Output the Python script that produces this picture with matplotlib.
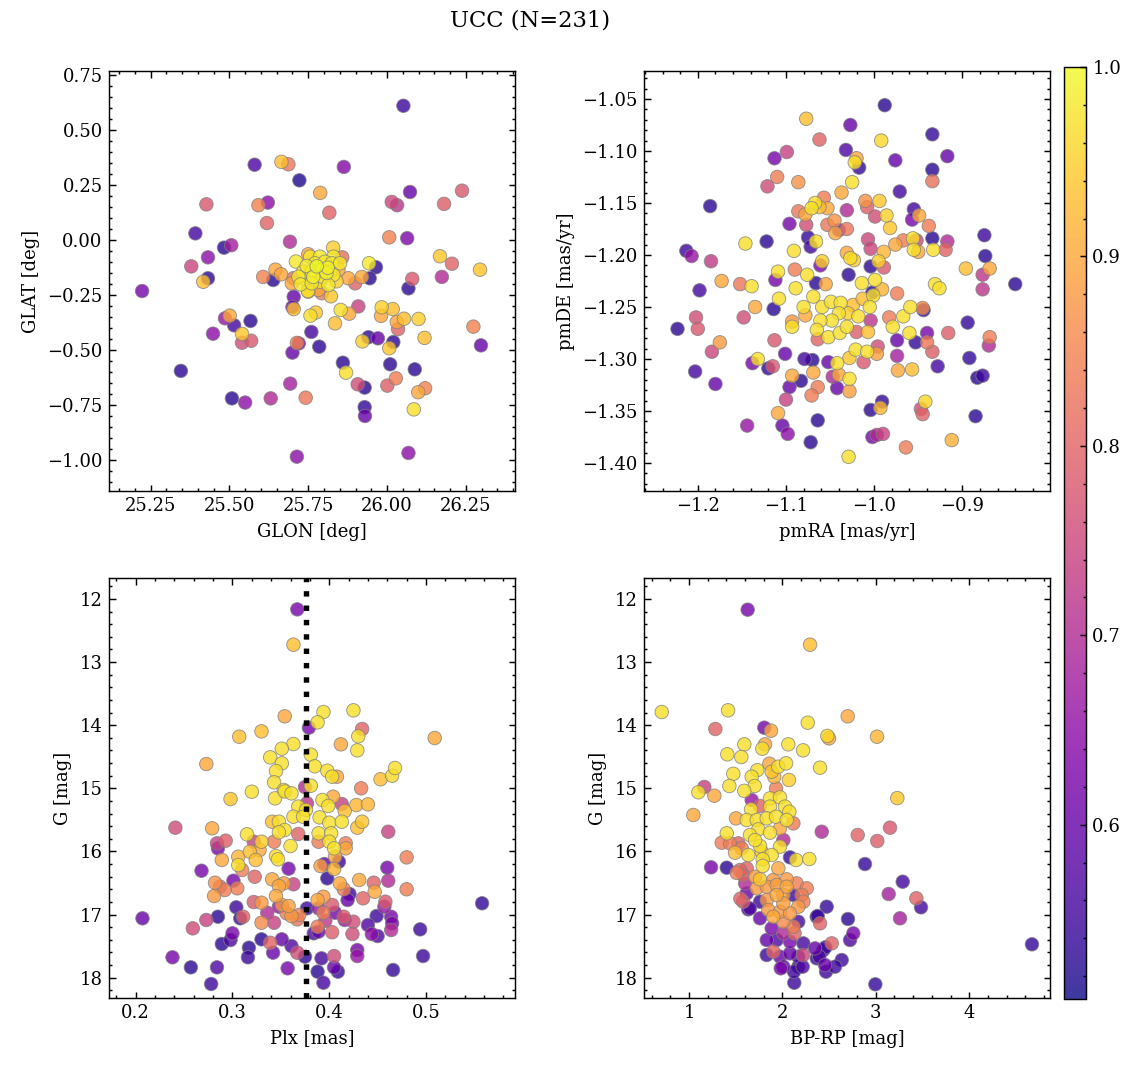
import numpy as np
import matplotlib
matplotlib.use('Agg')
from matplotlib import pyplot as plt
from matplotlib.ticker import MultipleLocator, AutoMinorLocator

plt.rcParams['font.family'] = 'serif'
plt.rcParams['font.serif'] = ['DejaVu Serif']
plt.rcParams['font.size'] = 10
plt.rcParams['axes.linewidth'] = 0.8

title = 'UCC (N=231)'
plx_line = 0.376

# --- panel 1: sky positions ---
glon = [26.052, 25.580, 25.665, 25.687, 25.722, 25.863, 25.788, 26.073, 26.238, 25.427,
        25.592, 25.622, 25.817, 26.015, 26.032, 26.181, 25.619, 25.392, 25.692, 26.007,
        26.064, 25.483, 25.506, 25.432, 25.379, 26.168, 26.206, 26.295, 25.432, 25.417,
        26.080, 26.174, 25.646, 25.664, 25.607, 25.639, 25.829, 25.943, 25.965, 25.920,
        25.945, 25.877, 25.711, 25.858, 25.223, 26.068, 25.704, 25.700, 25.704, 25.749,
        25.822, 25.757, 25.774, 25.853, 25.880, 25.909, 25.835, 25.983, 25.981, 26.018,
        26.031, 26.054, 26.035, 26.100, 26.119, 26.274, 26.298, 25.486, 25.501, 25.515,
        25.567, 25.448, 25.540, 25.540, 25.569, 25.760, 25.720, 25.714, 25.700, 25.785,
        25.860, 25.870, 25.922, 25.941, 25.971, 26.020, 26.007, 26.010, 26.088, 25.907,
        25.929, 26.001, 26.028, 26.099, 26.121, 26.085, 25.929, 25.930, 25.346, 25.508,
        25.550, 25.631, 25.693, 25.742, 25.714, 26.068,
        25.750, 25.756, 25.787, 25.830, 25.772, 25.803, 25.825, 25.851, 25.734, 25.761,
        25.793, 25.819, 25.846, 25.719, 25.796, 25.830, 25.726, 25.761, 25.814, 25.703,
        25.698, 25.750, 25.782, 25.793, 25.899,
        25.777, 25.808, 25.745, 25.840, 25.787, 25.766, 25.812, 25.740]
glat = [0.610, 0.342, 0.355, 0.344, 0.271, 0.332, 0.214, 0.218, 0.224, 0.162,
        0.158, 0.170, 0.124, 0.173, 0.158, 0.164, 0.077, 0.030, -0.008, 0.012,
        0.008, -0.035, -0.024, -0.079, -0.120, -0.074, -0.108, -0.135, -0.174, -0.190,
        -0.177, -0.168, -0.135, -0.156, -0.168, -0.182, -0.035, -0.106, -0.124, -0.168,
        -0.174, -0.174, -0.098, -0.079, -0.232, -0.220, -0.258, -0.305, -0.314, -0.232,
        -0.256, -0.344, -0.330, -0.318, -0.335, -0.302, -0.379, -0.306, -0.345, -0.314,
        -0.373, -0.358, -0.405, -0.359, -0.445, -0.394, -0.479, -0.356, -0.344, -0.388,
        -0.368, -0.426, -0.427, -0.467, -0.458, -0.418, -0.470, -0.468, -0.512, -0.485,
        -0.558, -0.603, -0.461, -0.442, -0.447, -0.464, -0.492, -0.565, -0.588, -0.656,
        -0.671, -0.662, -0.629, -0.692, -0.674, -0.770, -0.760, -0.800, -0.595, -0.720,
        -0.739, -0.720, -0.653, -0.717, -0.985, -0.968,
        -0.065, -0.076, -0.076, -0.076, -0.106, -0.099, -0.106, -0.106, -0.144, -0.141,
        -0.136, -0.144, -0.136, -0.167, -0.167, -0.159, -0.202, -0.197, -0.205, -0.174,
        -0.197, -0.235, -0.227, -0.242, -0.197,
        -0.120, -0.150, -0.118, -0.188, -0.190, -0.168, -0.126, -0.178]
p_sky = [0.55, 0.57, 0.93, 0.83, 0.52, 0.64, 0.90, 0.60, 0.78, 0.78,
         0.85, 0.65, 0.80, 0.75, 0.72, 0.79, 0.80, 0.56, 0.70, 0.85,
         0.63, 0.53, 0.68, 0.65, 0.75, 0.94, 0.80, 0.94, 0.53, 0.93,
         0.78, 0.70, 0.90, 0.90, 0.85, 0.53, 0.95, 0.98, 0.53, 0.90,
         0.53, 0.90, 0.98, 0.82, 0.62, 0.53, 0.60, 0.62, 0.93, 0.97,
         0.94, 0.97, 0.94, 0.97, 0.90, 0.74, 0.93, 0.95, 0.90, 0.93,
         0.90, 0.93, 0.80, 0.95, 0.93, 0.85, 0.60, 0.66, 0.90, 0.56,
         0.53, 0.65, 0.94, 0.76, 0.78, 0.56, 0.62, 0.85, 0.60, 0.53,
         0.53, 0.97, 0.95, 0.54, 0.60, 0.53, 0.94, 0.53, 0.53, 0.76,
         0.53, 0.79, 0.84, 0.90, 0.85, 0.97, 0.54, 0.60, 0.53, 0.53,
         0.65, 0.70, 0.68, 0.83, 0.65, 0.65,
         0.90, 0.98, 0.98, 0.98, 0.98, 0.98, 0.98, 0.98, 0.98, 0.98,
         0.98, 0.98, 0.90, 0.98, 0.98, 0.98, 0.98, 0.98, 0.98, 0.82,
         0.90, 0.94, 0.90, 0.84, 0.80,
         1.00, 0.99, 0.98, 0.95, 0.97, 0.99, 0.99, 0.96]

# --- panel 2: proper motions ---
pmra = [-0.988, -1.077, -1.027, -0.934, -1.062, -0.992, -1.032, -1.113, -1.099, -0.917,
        -1.020, -1.022, -1.017, -0.976, -0.934, -0.934, -1.110, -1.121, -1.086, -1.025,
        -0.971, -1.037, -1.186, -1.057, -1.067, -1.071, -1.062, -1.053, -1.086, -1.078,
        -1.010, -1.008, -0.994, -1.031, -0.999, -0.986, -0.982, -0.955, -0.957, -0.949,
        -0.938, -1.096, -1.077, -1.053, -1.045, -1.040, -1.044, -1.031, -1.075, -1.072,
        -1.066, -1.122, -1.146, -1.091, -1.213, -1.207, -1.185, -1.007, -1.004, -1.031,
        -1.027, -1.023, -0.989, -0.976, -0.967, -0.956, -0.955, -0.950, -0.952, -0.934,
        -0.933, -0.917, -0.919, -0.875, -0.874, -0.896, -0.869, -0.877, -0.840, -1.004,
        -0.995, -0.989, -1.029, -1.061, -1.059, -1.090, -1.076, -1.109, -1.112, -1.173,
        -1.152, -1.139,
        -1.198, -1.089, -1.066, -1.055, -1.014, -0.999, -0.991, -0.931, -0.926, -0.877,
        -1.108, -1.135, -1.114, -1.148, -1.202, -1.200, -1.223, -1.175, -1.184, -1.203,
        -1.180, -1.080, -1.078, -1.069, -1.059, -1.049, -1.038, -1.024, -1.013, -1.001,
        -1.002, -1.005, -1.018, -1.030, -1.040, -1.048, -1.061, -1.065, -1.052, -1.064,
        -1.039, -1.031, -1.020, -1.007, -1.004, -1.093, -1.093, -0.983, -0.979, -0.974,
        -0.967, -0.959, -0.945, -0.944, -0.960, -0.974, -0.953, -0.940, -0.940, -0.934,
        -0.916, -0.894, -0.869, -0.870, -0.892, -0.928, -0.974, -0.973, -0.957, -0.883,
        -0.877, -1.021, -1.008, -0.997, -0.996, -1.012, -1.028, -1.042, -1.052, -1.040,
        -1.028, -1.047, -1.042, -1.028, -1.069, -1.083, -1.093, -1.096, -1.064, -1.071,
        -1.100, -1.079, -1.070, -1.101, -1.132, -1.138, -1.120, -1.115, -1.113, -1.109,
        -1.104, -1.098, -1.144, -1.064, -1.072, -1.004, -0.993, -0.991, -1.002, -0.990,
        -0.997, -0.964, -1.029, -0.947, -0.945, -0.942, -0.885, -0.912]
pmde = [-1.056, -1.069, -1.075, -1.084, -1.089, -1.090, -1.099, -1.107, -1.101, -1.105,
        -1.107, -1.111, -1.116, -1.109, -1.118, -1.129, -1.125, -1.134, -1.130, -1.130,
        -1.139, -1.140, -1.153, -1.145, -1.150, -1.155, -1.154, -1.155, -1.158, -1.161,
        -1.148, -1.154, -1.148, -1.157, -1.163, -1.162, -1.174, -1.156, -1.166, -1.162,
        -1.172, -1.170, -1.171, -1.171, -1.167, -1.176, -1.179, -1.175, -1.183, -1.192,
        -1.187, -1.187, -1.189, -1.196, -1.196, -1.201, -1.206, -1.185, -1.194, -1.198,
        -1.203, -1.205, -1.197, -1.190, -1.186, -1.184, -1.195, -1.197, -1.186, -1.184,
        -1.195, -1.187, -1.195, -1.181, -1.201, -1.213, -1.213, -1.219, -1.228, -1.211,
        -1.206, -1.212, -1.219, -1.210, -1.206, -1.214, -1.219, -1.216, -1.224, -1.225,
        -1.228, -1.230,
        -1.234, -1.232, -1.227, -1.228, -1.227, -1.224, -1.233, -1.228, -1.232, -1.233,
        -1.242, -1.250, -1.252, -1.260, -1.260, -1.271, -1.271, -1.284, -1.293, -1.312,
        -1.324, -1.250, -1.258, -1.240, -1.250, -1.245, -1.246, -1.248, -1.242, -1.239,
        -1.236, -1.250, -1.259, -1.256, -1.256, -1.263, -1.263, -1.272, -1.279, -1.281,
        -1.275, -1.269, -1.274, -1.274, -1.263, -1.264, -1.269, -1.260, -1.269, -1.237,
        -1.259, -1.250, -1.251, -1.253, -1.275, -1.282, -1.284, -1.275, -1.284, -1.293,
        -1.275, -1.265, -1.279, -1.287, -1.299, -1.307, -1.297, -1.311, -1.310, -1.318,
        -1.316, -1.291, -1.293, -1.295, -1.288, -1.303, -1.299, -1.304, -1.303, -1.315,
        -1.319, -1.317, -1.328, -1.331, -1.313, -1.321, -1.316, -1.327, -1.327, -1.335,
        -1.339, -1.300, -1.301, -1.295, -1.300, -1.304, -1.309, -1.307, -1.282, -1.352,
        -1.364, -1.372, -1.364, -1.359, -1.380, -1.349, -1.347, -1.341, -1.375, -1.372,
        -1.373, -1.385, -1.394, -1.348, -1.353, -1.341, -1.355, -1.378]
p_pm = [0.53, 0.93, 0.60, 0.54, 0.80, 0.96, 0.57, 0.62, 0.74, 0.60,
        0.90, 0.97, 0.54, 0.60, 0.53, 0.82, 0.84, 0.76, 0.87, 0.97,
        0.56, 0.90, 0.53, 0.84, 0.97, 0.97, 0.93, 0.90, 0.83, 0.90,
        0.87, 0.79, 0.94, 0.70, 0.76, 0.95, 0.94, 0.56, 0.62, 0.90,
        0.84, 0.62, 0.76, 0.83, 0.87, 0.62, 0.90, 0.83, 0.54, 0.56,
        0.97, 0.53, 0.97, 0.97, 0.55, 0.66, 0.73, 0.75, 0.75, 0.90,
        0.97, 0.95, 0.92, 0.90, 0.84, 0.97, 0.97, 0.90, 0.75, 0.53,
        0.97, 0.70, 0.80, 0.55, 0.53, 0.93, 0.90, 0.72, 0.53, 0.53,
        0.95, 0.78, 0.53, 0.62, 0.95, 0.84, 0.97, 0.97, 0.62, 0.90,
        0.83, 0.97,
        0.56, 0.97, 0.53, 0.90, 0.97, 0.97, 0.92, 0.97, 0.97, 0.72,
        0.97, 0.90, 0.53, 0.76, 0.76, 0.78, 0.53, 0.88, 0.75, 0.56,
        0.60, 0.97, 0.90, 0.97, 0.97, 0.97, 0.97, 0.93, 0.93, 0.97,
        0.53, 0.97, 0.97, 0.95, 0.97, 0.97, 0.97, 0.97, 0.97, 0.80,
        0.97, 0.97, 0.79, 0.93, 0.72, 0.88, 0.97, 0.84, 0.97, 0.84,
        0.97, 0.97, 0.86, 0.54, 0.97, 0.60, 0.54, 0.62, 0.83, 0.79,
        0.79, 0.54, 0.84, 0.70, 0.54, 0.56, 0.68, 0.90, 0.93, 0.53,
        0.55, 0.97, 0.97, 0.89, 0.76, 0.78, 0.94, 0.97, 0.60, 0.90,
        0.97, 0.70, 0.60, 0.89, 0.90, 0.53, 0.90, 0.60, 0.84, 0.84,
        0.74, 0.56, 0.53, 0.60, 0.97, 0.62, 0.54, 0.78, 0.78, 0.90,
        0.60, 0.65, 0.66, 0.53, 0.53, 0.53, 0.92, 0.54, 0.62, 0.74,
        0.70, 0.84, 0.97, 0.76, 0.80, 0.96, 0.53, 0.91]

# --- panel 3: parallax vs G ---
plx = [0.367, 0.363, 0.354, 0.394, 0.425, 0.388, 0.379, 0.434, 0.330, 0.307,
       0.430, 0.509, 0.412, 0.363, 0.351, 0.429, 0.339, 0.381, 0.351, 0.273,
       0.385, 0.345, 0.398, 0.468, 0.465, 0.453, 0.403, 0.408, 0.343, 0.381,
       0.375, 0.433, 0.353,
       0.298, 0.320, 0.344, 0.354, 0.361, 0.368, 0.377, 0.376, 0.393, 0.404,
       0.399, 0.413, 0.416, 0.428, 0.440, 0.363, 0.373, 0.341, 0.348, 0.354,
       0.348, 0.368, 0.360, 0.390, 0.400, 0.413, 0.429, 0.434, 0.389, 0.402,
       0.389, 0.400, 0.405, 0.417, 0.417, 0.406, 0.461, 0.480, 0.315, 0.322,
       0.330, 0.343, 0.318, 0.328, 0.306, 0.306, 0.324, 0.345, 0.347, 0.310,
       0.289, 0.284, 0.285, 0.293, 0.279, 0.241, 0.268, 0.358, 0.391, 0.395,
       0.405, 0.410, 0.398, 0.341, 0.348, 0.353, 0.363, 0.323, 0.301, 0.305,
       0.282, 0.287, 0.292, 0.281, 0.345, 0.411, 0.415, 0.419, 0.421, 0.431,
       0.446, 0.447, 0.435, 0.461, 0.460, 0.480, 0.388, 0.394, 0.389, 0.377,
       0.403, 0.322, 0.330, 0.351, 0.358, 0.348, 0.304, 0.336, 0.356, 0.361,
       0.369, 0.367, 0.394, 0.396, 0.406, 0.415, 0.416, 0.425, 0.449, 0.457,
       0.458, 0.464, 0.465, 0.464, 0.494, 0.558, 0.207, 0.259, 0.273, 0.285,
       0.308, 0.311, 0.330, 0.343, 0.300, 0.298, 0.289, 0.317, 0.316, 0.330,
       0.339, 0.342, 0.351, 0.361, 0.367, 0.375, 0.384, 0.389, 0.388, 0.403,
       0.392, 0.405, 0.405, 0.409, 0.388, 0.394, 0.357, 0.284, 0.257, 0.278,
       0.238, 0.429, 0.429, 0.424, 0.440, 0.444, 0.450, 0.466, 0.497]
g_plx = [12.164, 12.724, 13.859, 13.791, 13.764, 13.954, 14.039, 14.060, 14.097, 14.182,
         14.176, 14.203, 14.303, 14.298, 14.372, 14.398, 14.509, 14.467, 14.604, 14.615,
         14.651, 14.726, 14.721, 14.678, 14.800, 14.857, 14.816, 14.816, 14.905, 14.959,
         14.980, 15.000, 15.027,
         15.170, 15.054, 15.159, 15.050, 15.080, 15.290, 15.238, 15.344, 15.185, 15.133,
         15.280, 15.249, 15.360, 15.265, 15.254, 15.450, 15.450, 15.529, 15.529, 15.661,
         15.697, 15.724, 15.914, 15.460, 15.545, 15.529, 15.624, 15.529, 15.713, 15.713,
         15.846, 15.846, 15.951, 15.872, 15.951, 16.084, 15.688, 16.094, 15.729, 15.846,
         15.846, 15.846, 16.005, 15.978, 16.084, 16.216, 16.136, 16.073, 16.125, 16.295,
         16.136, 15.872, 15.951, 15.830, 15.634, 15.624, 16.306, 16.274, 16.231, 16.200,
         16.279, 16.163, 16.427, 16.442, 16.548, 16.506, 16.521, 16.401, 16.464, 16.585,
         16.496, 16.559, 16.612, 16.707, 16.707, 16.506, 16.600, 16.770, 16.675, 16.453,
         16.496, 16.639, 16.743, 16.464, 16.258, 16.600, 16.770, 16.718, 16.902, 16.902,
         16.849, 16.802, 16.813, 16.849, 16.865, 16.876, 16.886, 16.971, 16.981, 17.024,
         17.008, 17.076, 16.971, 17.098, 16.971, 17.035, 17.087, 17.114, 17.024, 16.876,
         16.797, 17.035, 17.140, 17.246, 17.235, 16.822, 17.060, 17.219, 17.087, 17.035,
         17.060, 17.035, 17.130, 17.130, 17.298, 17.404, 17.467, 17.526, 17.678, 17.393,
         17.447, 17.605, 17.393, 17.500, 17.605, 17.668, 17.298, 17.272, 17.193, 17.281,
         17.694, 17.658, 17.837, 17.906, 17.906, 18.081, 17.853, 17.837, 17.837, 18.101,
         17.678, 17.563, 17.658, 17.309, 17.167, 17.309, 17.341, 17.879, 17.658]
p_plx = [0.62, 0.93, 0.90, 0.97, 0.97, 0.97, 0.62, 0.80, 0.93, 0.93,
         0.97, 0.90, 0.90, 0.97, 0.97, 0.97, 0.97, 0.97, 0.97, 0.90,
         0.97, 0.97, 0.97, 0.97, 0.96, 0.93, 0.97, 0.90, 0.97, 0.97,
         0.70, 0.84, 0.97,
         0.94, 0.97, 0.97, 0.97, 0.97, 0.97, 0.72, 0.97, 0.97, 0.90,
         0.97, 0.74, 0.93, 0.92, 0.92, 0.97, 0.97, 0.93, 0.97, 0.97,
         0.97, 0.80, 0.97, 0.97, 0.97, 0.97, 0.93, 0.94, 0.97, 0.97,
         0.84, 0.97, 0.97, 0.84, 0.90, 0.90, 0.74, 0.84, 0.97, 0.74,
         0.95, 0.84, 0.93, 0.90, 0.92, 0.97, 0.93, 0.97, 0.97, 0.84,
         0.90, 0.74, 0.62, 0.79, 0.90, 0.76, 0.62, 0.62, 0.89, 0.60,
         0.92, 0.55, 0.53, 0.90, 0.90, 0.89, 0.74, 0.80, 0.62, 0.84,
         0.87, 0.80, 0.84, 0.88, 0.90, 0.90, 0.84, 0.60, 0.55, 0.90,
         0.80, 0.90, 0.80, 0.70, 0.62, 0.84, 0.90, 0.88, 0.66, 0.55,
         0.78, 0.78, 0.88, 0.88, 0.89, 0.66, 0.55, 0.70, 0.84, 0.88,
         0.85, 0.83, 0.84, 0.72, 0.62, 0.78, 0.66, 0.76, 0.55, 0.66,
         0.78, 0.62, 0.62, 0.70, 0.55, 0.54, 0.60, 0.76, 0.74, 0.53,
         0.55, 0.80, 0.86, 0.74, 0.62, 0.57, 0.53, 0.53, 0.55, 0.53,
         0.80, 0.60, 0.60, 0.57, 0.76, 0.53, 0.57, 0.60, 0.84, 0.79,
         0.56, 0.76, 0.60, 0.55, 0.53, 0.56, 0.62, 0.57, 0.53, 0.55,
         0.62, 0.62, 0.66, 0.76, 0.57, 0.65, 0.57, 0.54, 0.55]

# --- panel 4: colour-magnitude diagram ---
bprp = [1.628, 2.296, 0.708, 1.418, 2.699, 1.282, 1.806, 1.878, 2.271, 2.481,
        2.499, 3.013, 1.592, 1.814, 1.785, 2.063, 2.221, 1.410, 1.560, 1.860,
        1.956, 2.039, 1.731, 1.885, 2.403, 1.474, 1.671, 1.913, 2.070, 1.432,
        1.703, 1.932, 1.164, 1.100, 1.271, 1.592, 3.230,
        1.046, 1.503, 1.404, 1.350, 1.439, 1.528, 1.493, 1.236, 1.404, 1.671,
        1.867, 1.974, 1.760, 1.664, 1.867, 2.028, 2.074, 1.618, 1.725, 1.832,
        1.931, 2.046, 2.117, 1.974, 1.742, 1.867, 1.653, 2.010, 1.760, 1.707,
        1.974, 1.564, 1.778, 1.635, 1.885, 1.789, 2.081, 2.146, 2.288, 1.789,
        1.956, 1.618, 1.580, 1.707, 1.760, 1.903, 2.046, 2.153, 2.260, 1.725,
        1.832, 1.939, 2.046, 1.600, 1.618, 1.580, 1.760, 1.832, 1.939, 2.010,
        2.117, 2.206, 2.010, 2.224, 2.170, 1.653, 1.849, 1.974, 2.081, 1.903,
        1.760, 2.010, 2.117, 2.170, 2.367, 2.403, 2.474, 2.702, 2.130, 2.010,
        1.885, 1.832, 1.939, 2.081, 2.224, 2.349, 2.438, 2.528, 1.903, 1.832,
        1.974, 2.081, 2.170, 2.220, 2.367, 2.635, 2.010, 2.170, 2.456, 1.546,
        1.510, 1.550, 1.635, 2.421, 2.806, 3.016, 3.152, 2.884, 3.288, 3.138,
        3.434, 3.484, 3.259, 4.672, 2.995, 2.759, 2.724, 2.127, 2.124, 2.217,
        2.467, 2.563, 1.982, 2.395, 2.460, 2.378]
g_cmd = [12.169, 12.724, 13.791, 13.764, 13.859, 14.060, 14.039, 14.087, 13.960, 14.170,
         14.208, 14.182, 14.303, 14.303, 14.372, 14.303, 14.398, 14.461, 14.504, 14.610,
         14.657, 14.604, 14.712, 14.737, 14.673, 14.770, 14.816, 14.816, 14.868, 14.963,
         14.963, 15.000, 14.979, 15.063, 15.117, 15.040, 15.155,
         15.423, 15.476, 15.713, 15.862, 15.872, 15.872, 16.020, 16.252, 16.258, 15.185,
         15.159, 15.143, 15.280, 15.333, 15.290, 15.290, 15.371, 15.502, 15.502, 15.476,
         15.450, 15.502, 15.555, 15.634, 15.650, 15.703, 15.740, 15.819, 15.914, 15.820,
         15.925, 15.951, 16.005, 16.057, 16.057, 16.125, 16.094, 16.136, 16.120, 16.231,
         16.268, 16.268, 16.374, 16.401, 16.442, 16.453, 16.442, 16.506, 16.585, 16.585,
         16.559, 16.532, 16.559, 16.506, 16.664, 16.797, 16.797, 16.770, 16.690, 16.690,
         16.690, 16.690, 16.822, 16.797, 16.876, 16.902, 16.929, 16.955, 16.981, 17.035,
         17.060, 17.114, 17.193, 17.114, 17.035, 17.140, 16.876, 17.071, 17.298, 17.298,
         17.219, 17.404, 17.404, 17.431, 17.457, 17.536, 17.563, 17.457, 17.589, 17.642,
         17.668, 17.616, 17.668, 17.642, 17.694, 17.721, 17.827, 17.827, 17.800, 16.295,
         16.340, 16.750, 16.918, 15.688, 15.740, 15.835, 15.624, 16.200, 16.480, 16.675,
         16.743, 16.886, 17.060, 17.472, 18.106, 17.298, 17.404, 18.081, 17.906, 17.827,
         17.906, 17.827, 17.853, 17.668, 17.520, 17.024]
p_cmd = [0.62, 0.93, 0.97, 0.97, 0.90, 0.80, 0.62, 0.90, 0.97, 0.96,
         0.90, 0.92, 0.97, 0.90, 0.97, 0.97, 0.97, 0.97, 0.97, 0.90,
         0.97, 0.97, 0.97, 0.94, 0.97, 0.97, 0.97, 0.92, 0.95, 0.97,
         0.97, 0.84, 0.74, 0.97, 0.90, 0.97, 0.94,
         0.90, 0.90, 0.97, 0.84, 0.84, 0.80, 0.93, 0.62, 0.53, 0.66,
         0.97, 0.97, 0.80, 0.97, 0.97, 0.97, 0.97, 0.97, 0.97, 0.97,
         0.97, 0.97, 0.84, 0.90, 0.97, 0.97, 0.97, 0.70, 0.97, 0.97,
         0.97, 0.84, 0.95, 0.97, 0.97, 0.97, 0.54, 0.97, 0.97, 0.97,
         0.90, 0.80, 0.80, 0.88, 0.94, 0.88, 0.88, 0.84, 0.84, 0.88,
         0.88, 0.89, 0.90, 0.70, 0.60, 0.78, 0.55, 0.88, 0.90, 0.89,
         0.55, 0.84, 0.89, 0.84, 0.88, 0.57, 0.88, 0.88, 0.88, 0.90,
         0.60, 0.86, 0.84, 0.56, 0.53, 0.80, 0.54, 0.53, 0.80, 0.70,
         0.62, 0.60, 0.57, 0.62, 0.56, 0.60, 0.55, 0.80, 0.80, 0.55,
         0.60, 0.60, 0.57, 0.75, 0.55, 0.55, 0.60, 0.55, 0.60, 0.80,
         0.84, 0.80, 0.56, 0.70, 0.80, 0.79, 0.78, 0.54, 0.56, 0.68,
         0.80, 0.56, 0.68, 0.54, 0.54, 0.62, 0.57, 0.55, 0.55, 0.57,
         0.55, 0.55, 0.62, 0.56, 0.55, 0.55]

vmin, vmax = 0.508, 1.0

W, H = 1136, 1067
fig = plt.figure(figsize=(W / 130, H / 130), dpi=130)


def px_axes(x0, y0, x1, y1):
    return fig.add_axes([x0 / W, 1 - y1 / H, (x1 - x0) / W, (y1 - y0) / H])


def style(ax, xmaj, ymaj):
    ax.xaxis.set_major_locator(MultipleLocator(xmaj))
    ax.yaxis.set_major_locator(MultipleLocator(ymaj))
    ax.xaxis.set_minor_locator(AutoMinorLocator(5))
    ax.yaxis.set_minor_locator(AutoMinorLocator(5))
    ax.tick_params(which='both', direction='in', top=True, right=True, width=0.8)
    ax.tick_params(which='major', length=3.6)
    ax.tick_params(which='minor', length=1.8)


def scat(ax, x, y, p):
    x, y, p = np.asarray(x), np.asarray(y), np.asarray(p)
    o = np.argsort(p, kind='stable')
    return ax.scatter(x[o], y[o], c=p[o], cmap='plasma', vmin=vmin, vmax=vmax,
                      s=56, alpha=0.8, edgecolors='grey', linewidths=0.5)


ax1 = px_axes(109, 71, 515, 491)
ax2 = px_axes(644, 71, 1050, 491)
ax3 = px_axes(109, 578, 515, 998)
ax4 = px_axes(644, 578, 1050, 998)
cax = px_axes(1064, 67, 1086, 999)

sc = scat(ax1, glon, glat, p_sky)
ax1.set_xlim(25.118, 26.406)
ax1.set_ylim(-1.141, 0.768)
ax1.set_xlabel('GLON [deg]')
ax1.set_ylabel('GLAT [deg]')
style(ax1, 0.25, 0.25)

scat(ax2, pmra, pmde, p_pm)
ax2.set_xlim(-1.261, -0.8006)
ax2.set_ylim(-1.4269, -1.0231)
ax2.set_xlabel('pmRA [mas/yr]')
ax2.set_ylabel('pmDE [mas/yr]')
style(ax2, 0.1, 0.05)

scat(ax3, plx, g_plx, p_plx)
ax3.axvline(plx_line, color='k', ls=':', lw=3)
ax3.set_xlim(0.1724, 0.592)
ax3.set_ylim(18.323, 11.667)
ax3.set_xlabel('Plx [mas]')
ax3.set_ylabel('G [mag]')
style(ax3, 0.1, 1)

scat(ax4, bprp, g_cmd, p_cmd)
ax4.set_xlim(0.518, 4.865)
ax4.set_ylim(18.323, 11.667)
ax4.set_xlabel('BP-RP [mag]')
ax4.set_ylabel('G [mag]')
style(ax4, 1, 1)

cb = fig.colorbar(sc, cax=cax)
cb.set_ticks([0.6, 0.7, 0.8, 0.9, 1.0])
cb.ax.yaxis.set_minor_locator(MultipleLocator(0.02))
cb.ax.tick_params(which='both', direction='in', width=0.8)
cb.ax.tick_params(which='major', length=3.6)
cb.ax.tick_params(which='minor', length=1.8)
cb.outline.set_linewidth(0.8)

fig.text(530 / W, 1 - 20 / H, title, ha='center', va='center', fontsize=12.5)

fig.savefig('out.png', dpi=130)
